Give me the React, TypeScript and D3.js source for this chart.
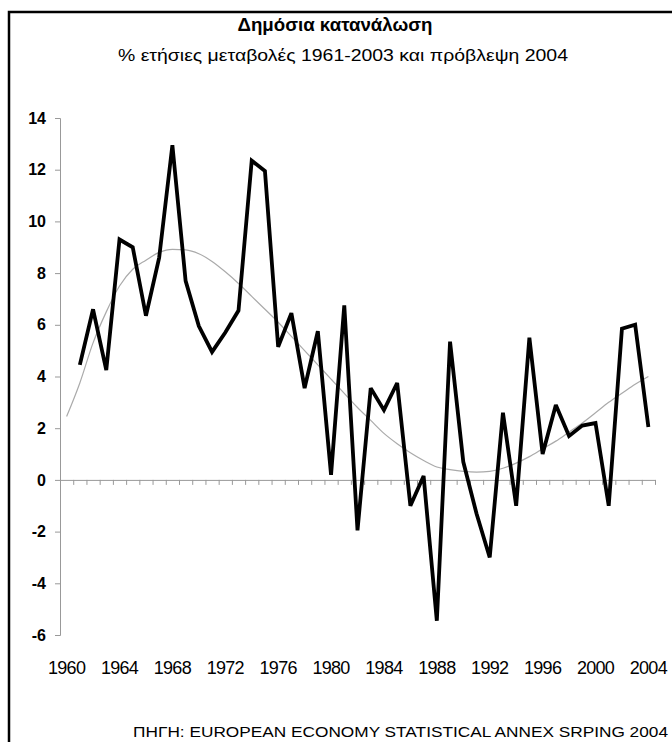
import { useRef, useEffect } from "react";
import { select, scaleLinear, line, axisLeft, axisBottom, curveMonotoneX, range } from "d3";

const years = range(1960, 2005);
// annual % change of public consumption (1960 has no value)
const values = [null,
  4.45, 6.6, 4.25, 9.3, 9.0, 6.35, 8.6, 12.95, 7.7, 5.95,
  4.95, 5.7, 6.55, 12.35, 11.95, 5.15, 6.45, 3.55, 5.75, 0.2,
  6.75, -1.95, 3.55, 2.7, 3.75, -1.0, 0.15, -5.45, 5.35, 0.7,
  -1.3, -3.0, 2.6, -1.0, 5.5, 1.0, 2.9, 1.7, 2.1, 2.2,
  -1.0, 5.85, 6.0, 2.05];
// trend line
const trend = [
  2.45, 3.75, 5.3, 6.5, 7.5, 8.15, 8.5, 8.8, 8.92, 8.9,
  8.75, 8.45, 8.05, 7.6, 7.1, 6.6, 6.1, 5.55, 5.0, 4.45,
  3.9, 3.35, 2.8, 2.3, 1.8, 1.4, 1.05, 0.75, 0.5, 0.4,
  0.33, 0.3, 0.33, 0.45, 0.65, 0.9, 1.2, 1.5, 1.85, 2.2,
  2.6, 3.0, 3.35, 3.7, 4.0];
const yTicks = [-6, -4, -2, 0, 2, 4, 6, 8, 10, 12, 14];
const xLabels = [1960, 1964, 1968, 1972, 1976, 1980, 1984, 1988, 1992, 1996, 2000, 2004];

const title = "Δημόσια κατανάλωση";
const subtitle = "% ετήσιες μεταβολές 1961-2003 και πρόβλεψη 2004";
const source = "ΠΗΓΗ: EUROPEAN ECONOMY STATISTICAL ANNEX SRPING 2004";

const font = "'Liberation Sans', Arial, sans-serif";
const axisColor = "#999";

export default function App() {
  const svgRef = useRef(null);

  useEffect(() => {
    const svg = select(svgRef.current);
    svg.selectAll("*").remove();

    const x = scaleLinear().domain([1959.5, 2004.5]).range([60, 655]);
    const y = scaleLinear().domain([-6, 14]).range([635, 118]);

    // frame (left + top only)
    svg.append("path")
      .attr("d", "M9,742 V12 H672")
      .attr("fill", "none")
      .attr("stroke", "#000")
      .attr("stroke-width", 2.5);

    svg.append("text")
      .attr("x", 335).attr("y", 31)
      .attr("text-anchor", "middle")
      .attr("font-family", font)
      .attr("font-size", 19)
      .attr("font-weight", 600)
      .attr("textLength", 195)
      .attr("lengthAdjust", "spacingAndGlyphs")
      .text(title);

    svg.append("text")
      .attr("x", 343).attr("y", 61)
      .attr("text-anchor", "middle")
      .attr("font-family", font)
      .attr("font-size", 17)
      .attr("textLength", 450)
      .attr("lengthAdjust", "spacingAndGlyphs")
      .text(subtitle);

    // y axis
    const yAxis = axisLeft(y).tickValues(yTicks).tickSize(5).tickPadding(9).tickFormat(d => String(d));
    const gy = svg.append("g").attr("transform", "translate(60,0)").call(yAxis);
    gy.select(".domain").attr("stroke", axisColor);
    gy.selectAll(".tick line").attr("stroke", axisColor);
    gy.selectAll(".tick text")
      .attr("font-family", font)
      .attr("font-size", 16)
      .attr("font-weight", "bold")
      .attr("fill", "#000");

    // zero line with category ticks
    const boundaries = range(1959.5, 2005, 1);
    const xAxis = axisBottom(x).tickValues(boundaries).tickSize(5).tickSizeOuter(0).tickFormat(() => "");
    const gx = svg.append("g").attr("transform", `translate(0,${y(0)})`).call(xAxis);
    gx.select(".domain").attr("stroke", axisColor);
    gx.selectAll(".tick line").attr("stroke", axisColor);

    svg.append("g")
      .selectAll("text")
      .data(xLabels)
      .join("text")
      .attr("x", d => x(d))
      .attr("y", 674)
      .attr("text-anchor", "middle")
      .attr("font-family", font)
      .attr("font-size", 18)
      .attr("letter-spacing", -0.7)
      .text(d => d);

    const trendLine = line()
      .x((d, i) => x(years[i]))
      .y(d => y(d))
      .curve(curveMonotoneX);
    svg.append("path")
      .attr("d", trendLine(trend))
      .attr("fill", "none")
      .attr("stroke", "#aaa")
      .attr("stroke-width", 1.2);

    const dataLine = line()
      .defined(d => d !== null)
      .x((d, i) => x(years[i]))
      .y(d => y(d));
    svg.append("path")
      .attr("d", dataLine(values))
      .attr("fill", "none")
      .attr("stroke", "#000")
      .attr("stroke-width", 3.8)
      .attr("stroke-linejoin", "miter")
      .attr("stroke-miterlimit", 3);

    svg.append("text")
      .attr("x", 668).attr("y", 737)
      .attr("text-anchor", "end")
      .attr("font-family", font)
      .attr("font-size", 15)
      .attr("textLength", 535)
      .attr("lengthAdjust", "spacingAndGlyphs")
      .text(source);
  }, []);

  return (
    <svg ref={svgRef} width={672} height={742}
      style={{ position: "absolute", left: 0, top: 0, background: "#fff" }} />
  );
}
